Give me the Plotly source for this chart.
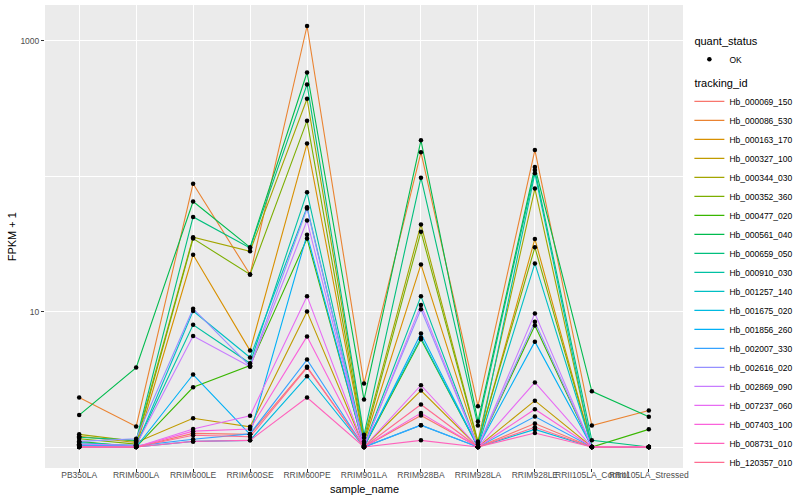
import plotly.graph_objects as go

samples = ["PB350LA", "RRIM600LA", "RRIM600LE", "RRIM600SE", "RRIM600PE", "RRIM901LA",
           "RRIM928BA", "RRIM928LA", "RRIM928LE", "RRII105LA_Control", "RRII105LA_Stressed"]

tracking_ids = ["Hb_000069_150", "Hb_000086_530", "Hb_000163_170", "Hb_000327_100", "Hb_000344_030",
                "Hb_000352_360", "Hb_000477_020", "Hb_000561_040", "Hb_000659_050", "Hb_000910_030",
                "Hb_001257_140", "Hb_001675_020", "Hb_001856_260", "Hb_002007_330", "Hb_002616_020",
                "Hb_002869_090", "Hb_007237_060", "Hb_007403_100", "Hb_008731_010", "Hb_120357_010"]

# FPKM + 1 per sample (order of `samples`)
hb_000069_150 = [1.00, 1.00, 1.26, 1.24, 3.91, 1.00, 1.71, 1.00, 1.49, 1.00, 1.00]
hb_000086_530 = [2.32, 1.42, 88.0, 18.8, 1285, 2.94, 150, 2.00, 156, 1.44, 1.86]
hb_000163_170 = [1.02, 1.00, 26.3, 5.15, 174, 1.07, 22.3, 1.05, 34.4, 1.00, 1.00]
hb_000327_100 = [1.20, 1.08, 1.63, 1.41, 10.0, 1.00, 2.61, 1.00, 2.20, 1.00, 1.00]
hb_000344_030 = [1.24, 1.10, 35.4, 27.9, 373, 1.17, 44.0, 1.10, 81.0, 1.00, 1.00]
hb_000352_360 = [1.15, 1.05, 34.6, 18.8, 257, 1.10, 38.9, 1.08, 29.8, 1.00, 1.00]
hb_000477_020 = [1.10, 1.00, 2.76, 4.00, 34.6, 1.00, 6.25, 1.00, 7.90, 1.00, 1.35]
hb_000561_040 = [1.72, 3.86, 65.0, 29.8, 583, 2.24, 184, 1.54, 117, 2.58, 1.67]
hb_000659_050 = [1.18, 1.12, 50.0, 29.5, 476, 1.23, 97.5, 1.44, 111, 1.12, 1.00]
hb_000910_030 = [1.05, 1.03, 8.00, 4.15, 76.0, 1.03, 13.0, 1.00, 105, 1.00, 1.00]
hb_001257_140 = [1.08, 1.02, 10.1, 4.58, 59.0, 1.02, 6.40, 1.00, 22.7, 1.00, 1.00]
hb_001675_020 = [1.00, 1.00, 1.10, 1.12, 3.33, 1.00, 1.45, 1.00, 1.35, 1.00, 1.00]
hb_001856_260 = [1.02, 1.00, 3.43, 1.24, 37.0, 1.00, 6.90, 1.00, 6.00, 1.00, 1.00]
hb_002007_330 = [1.03, 1.02, 1.14, 1.25, 4.42, 1.00, 1.45, 1.00, 1.68, 1.00, 1.00]
hb_002616_020 = [1.10, 1.15, 10.5, 3.95, 57.6, 1.02, 10.4, 1.00, 8.40, 1.00, 1.00]
hb_002869_090 = [1.05, 1.03, 6.60, 3.91, 47.0, 1.00, 11.2, 1.00, 9.70, 1.00, 1.00]
hb_007237_060 = [1.00, 1.00, 1.36, 1.70, 13.0, 1.00, 2.86, 1.00, 3.00, 1.00, 1.00]
hb_007403_100 = [1.00, 1.00, 1.31, 1.36, 6.56, 1.00, 1.78, 1.00, 1.90, 1.00, 1.00]
hb_008731_010 = [1.00, 1.00, 1.10, 1.12, 2.32, 1.00, 1.12, 1.00, 1.27, 1.00, 1.00]
hb_120357_010 = [1.00, 1.00, 1.22, 1.19, 3.85, 1.00, 2.06, 1.00, 1.40, 1.00, 1.00]

series_values = [hb_000069_150, hb_000086_530, hb_000163_170, hb_000327_100, hb_000344_030,
                 hb_000352_360, hb_000477_020, hb_000561_040, hb_000659_050, hb_000910_030,
                 hb_001257_140, hb_001675_020, hb_001856_260, hb_002007_330, hb_002616_020,
                 hb_002869_090, hb_007237_060, hb_007403_100, hb_008731_010, hb_120357_010]

palette = ["#F8766D", "#EA8331", "#D89000", "#C09B00", "#A3A500", "#7CAE00", "#39B600", "#00BB4E",
           "#00BF7D", "#00C1A3", "#00BFC4", "#00BAE0", "#00B0F6", "#35A2FF", "#9590FF", "#C77CFF",
           "#E76BF3", "#FA62DB", "#FF62BC", "#FF6C91"]

FONT = "Liberation Sans, Arial, sans-serif"

fig = go.Figure()
for i, (tid, vals) in enumerate(zip(tracking_ids, series_values)):
    fig.add_trace(go.Scatter(
        x=samples, y=vals, mode="lines", name=tid,
        line=dict(color=palette[i], width=1.1),
        legendgroup="tracking_id",
        legendgrouptitle=dict(text="tracking_id", font=dict(size=11, color="black", family=FONT)),
        legendrank=10 + i, hoverinfo="skip"))

all_x, all_y = [], []
for vals in series_values:
    all_x += samples
    all_y += vals
fig.add_trace(go.Scatter(
    x=all_x, y=all_y, mode="markers", name="OK",
    marker=dict(color="black", size=4.5),
    legendgroup="quant_status",
    legendgrouptitle=dict(text="quant_status", font=dict(size=11, color="black", family=FONT)),
    legendrank=1))

fig.update_layout(
    width=800, height=500,
    margin=dict(l=45, r=117, t=5, b=32, autoexpand=False),
    paper_bgcolor="white", plot_bgcolor="#EBEBEB",
    font=dict(family=FONT, size=9, color="#4D4D4D"),
    legend=dict(x=1.01, y=0.955, xanchor="left", yanchor="top", traceorder="grouped",
                tracegroupgap=4, font=dict(size=8.5, color="black", family=FONT),
                bgcolor="rgba(0,0,0,0)", itemwidth=30),
    showlegend=True,
    annotations=[
        dict(text="sample_name", xref="paper", yref="paper", x=0.5, y=-0.045,
             xanchor="center", yanchor="middle", showarrow=False,
             font=dict(size=11, color="black", family=FONT)),
        dict(text="FPKM + 1", xref="paper", yref="paper", x=-0.052, y=0.5, textangle=-90,
             xanchor="center", yanchor="middle", showarrow=False,
             font=dict(size=11, color="black", family=FONT)),
    ],
)
fig.update_xaxes(
    type="category", categoryorder="array", categoryarray=samples,
    range=[-0.6, len(samples) - 0.4], tickangle=0, automargin=False,
    showgrid=True, gridcolor="white", gridwidth=1.1, zeroline=False,
    ticks="outside", ticklen=3, tickcolor="#333333", tickwidth=1,
    tickfont=dict(size=8.5, color="#4D4D4D"), ticklabelstandoff=-4,
    showline=False)
fig.update_yaxes(
    type="log", range=[-0.155, 3.264], automargin=False,
    tickmode="array", tickvals=[10, 1000], ticktext=["10", "1000"],
    showgrid=True, gridcolor="white", gridwidth=1.1, zeroline=False,
    ticks="outside", ticklen=3, tickcolor="#333333", tickwidth=1,
    tickfont=dict(size=8.5, color="#4D4D4D"),
    minor=dict(tickmode="array", tickvals=[1, 100], showgrid=True, gridcolor="white", gridwidth=0.55, ticks=""),
    showline=False)

fig.write_html("out.html", config={"displayModeBar": False},
               post_script="document.body.style.margin='0px';document.body.style.overflow='hidden';")
